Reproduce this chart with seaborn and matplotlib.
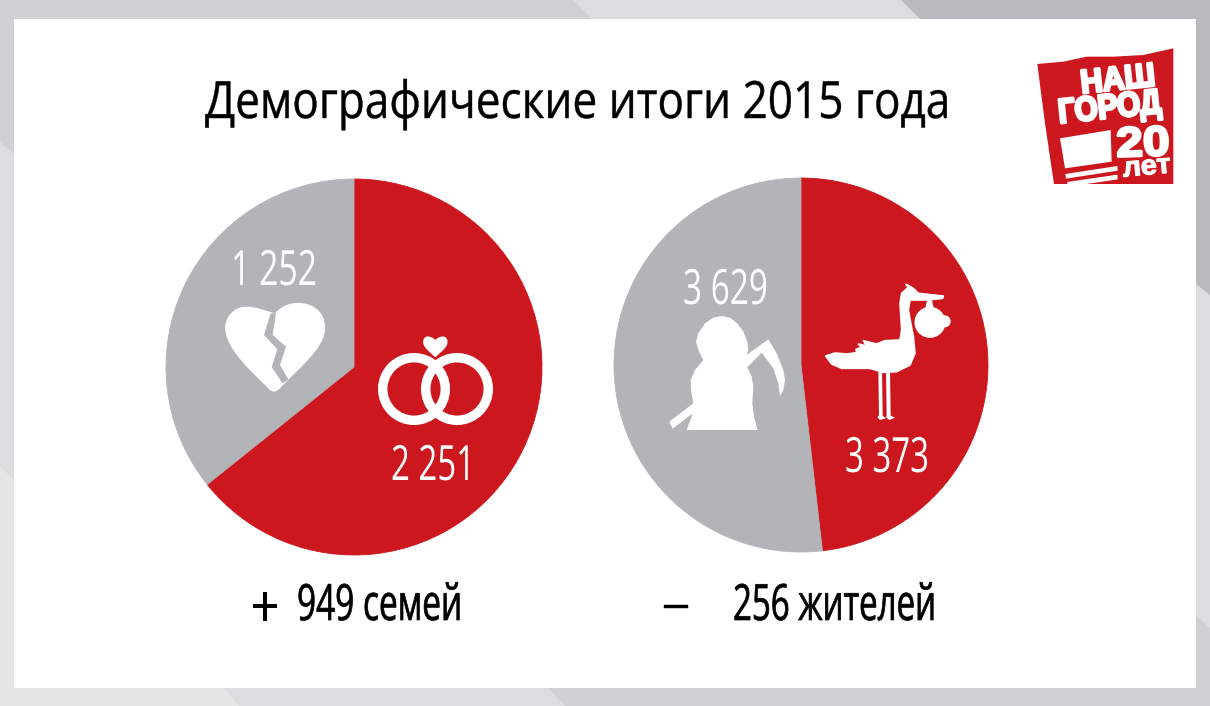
import matplotlib
matplotlib.use('Agg')
import matplotlib.pyplot as plt
import matplotlib.patheffects as pe
from matplotlib.patches import Polygon, Circle, PathPatch, Rectangle
from matplotlib.path import Path
from matplotlib.transforms import Affine2D
import seaborn as sns

W, H = 1210, 706

# chart values
marriage_labels = ['Браки', 'Разводы']
marriage_values = [2251, 1252]
population_labels = ['Рождения', 'Смерти']
population_values = [3373, 3629]
title_text = 'Демографические итоги 2015 года'
family_balance = '949 семей'
people_balance = '256 жителей'

RED = '#cd171e'
GREY = '#b3b4b8'

sns.set_theme(style='white')
plt.rcParams['font.family'] = ['Open Sans', 'DejaVu Sans']
palette = sns.color_palette([RED, GREY])


class Squeeze(pe.AbstractPathEffect):
    """Scale a text horizontally from its left end, no condensed font is installed."""

    def __init__(self, sx, stroke=0):
        super().__init__()
        self.sx = sx
        self.stroke = stroke

    def draw_path(self, renderer, gc, tpath, affine, rgbFace=None):
        gc0 = renderer.new_gc()
        gc0.copy_properties(gc)
        if self.stroke:
            gc0.set_linewidth(self.stroke)
            gc0.set_foreground(rgbFace)
        renderer.draw_path(gc0, tpath, Affine2D().scale(self.sx, 1) + affine, rgbFace)
        gc0.restore()


def fit_text(ax, s, x0, x1, base, size, color='black', rotation=0, stroke=0, **kw):
    # left end at x0, right end at x1, in pixels; base is the baseline
    t = ax.text(x0, base, s, fontsize=size, color=color, ha='left', va='baseline',
                rotation_mode='anchor', **kw)
    width = t.get_window_extent(fig.canvas.get_renderer()).width
    t.set_rotation(rotation)
    t.set_path_effects([Squeeze((x1 - x0) / width, stroke)])
    return t


def fmt(v):
    return f'{v:,}'.replace(',', ' ')


def zoomed(points, x0, y0):
    return [(x0 + x / 3, y0 + y / 3) for x, y in points]


def curve(start, segments, x0, y0):
    verts = [start]
    codes = [Path.MOVETO]
    for seg in segments:
        verts += list(seg)
        codes += [Path.CURVE4] * 3
    return Path(zoomed(verts, x0, y0), codes)


def draw_pie(fig, values, cx, cy, r):
    # axes are 1.25 * radius on each side of the centre, as ax.pie leaves them
    half = r * 1.25
    ax = fig.add_axes([(cx - half) / W, 1 - (cy + half) / H, 2 * half / W, 2 * half / H], zorder=1)
    ax.patch.set_alpha(0)
    wedges, _ = ax.pie(values, colors=palette, startangle=90, counterclock=False, radius=1)
    for wedge in wedges:
        # hide the white seam between the slices
        wedge.set_edgecolor(wedge.get_facecolor())
        wedge.set_linewidth(0.6)
    ax.set_xlim(-1.25, 1.25)
    ax.set_ylim(-1.25, 1.25)
    return ax


fig = plt.figure(figsize=(W / 100, H / 100), dpi=100)

# --- background bands and white panel ---
bg = fig.add_axes([0, 0, 1, 1], zorder=0)
bg.set_xlim(0, W)
bg.set_ylim(H, 0)
bg.axis('off')
bg.add_patch(Rectangle((0, 0), W, H, color='#dcddde', lw=0))
bg.add_patch(Polygon([(0, 0), (573, 0), (592, 19), (14, 154), (0, 142)], color='#d0d1d3', lw=0))
bg.add_patch(Polygon([(901, 0), (1210, 0), (1210, 295), (1196, 284), (920, 19)], color='#b9babd', lw=0))
bg.add_patch(Polygon([(548, 688), (565, 706), (1210, 706), (1210, 628), (1196, 615)], color='#d0d1d3', lw=0))
bg.add_patch(Polygon([(0, 466), (14, 480), (224, 688), (239, 706), (0, 706)], color='#e6e6e6', lw=0))
bg.add_patch(Rectangle((14, 19), 1182, 669, color='white', lw=0))

draw_pie(fig, marriage_values, 354, 367, 188)
draw_pie(fig, population_values, 801, 365, 187)

# --- overlay in pixel coordinates ---
ov = fig.add_axes([0, 0, 1, 1], zorder=2)
ov.set_xlim(0, W)
ov.set_ylim(H, 0)
ov.axis('off')
ov.patch.set_alpha(0)

fit_text(ov, title_text, 205, 950, 118, 37, stroke=0.3)

fit_text(ov, fmt(marriage_values[1]), 231, 317, 285, 35, 'white')
fit_text(ov, fmt(marriage_values[0]), 391, 475, 480, 35, 'white')
fit_text(ov, fmt(population_values[1]), 683, 768, 304, 35, 'white')
fit_text(ov, fmt(population_values[0]), 845, 929, 472, 35, 'white')

fit_text(ov, '+', 250, 280, 628, 44)
fit_text(ov, family_balance, 297, 462, 620, 36, stroke=0.5)
fit_text(ov, '–', 662, 690, 620, 36, stroke=0.3)
fit_text(ov, people_balance, 733, 936, 620, 36, stroke=0.5)

# broken heart
heart = curve((225, 100), [((250, 70), (290, 65), (310, 70)), ((360, 78), (378, 115), (375, 150)),
                           ((370, 210), (290, 270), (240, 325)), ((228, 338), (215, 338), (205, 325)),
                           ((150, 270), (80, 210), (75, 145)), ((75, 110), (105, 78), (140, 80)),
                           ((170, 80), (205, 95), (225, 100))], 200, 280)
ov.add_patch(PathPatch(heart, color='white', lw=0))
crack = [(212, 100), (228, 100), (218, 165), (258, 200), (240, 255), (265, 298), (248, 310), (215, 262),
         (232, 208), (192, 165)]
ov.add_patch(Polygon(zoomed(crack, 200, 280), color=GREY, lw=0))

# wedding rings with a small heart
ov.add_patch(Circle((414, 389), 31.3, fill=False, ec='white', lw=6.8))
ov.add_patch(Circle((457, 389), 31.3, fill=False, ec='white', lw=6.8))
ring_heart = curve((706, 180), [((715, 170), (728, 168), (733, 170)), ((745, 175), (745, 190), (738, 200)),
                                ((730, 212), (716, 222), (706, 232)), ((696, 222), (682, 212), (674, 200)),
                                ((667, 190), (667, 175), (679, 170)), ((684, 168), (697, 170), (706, 180))],
                   200, 280)
ov.add_patch(PathPatch(ring_heart, color='white', lw=0))

# reaper
hood = [(110, 480), (125, 440), (130, 400), (123, 360), (122, 330), (135, 300), (160, 270), (155, 262), (145, 240),
        (138, 215), (145, 190), (165, 160), (190, 143), (215, 138), (240, 143), (262, 160), (280, 185), (292, 215),
        (295, 240), (285, 268), (292, 292), (305, 320), (310, 350), (307, 400), (312, 440), (323, 480)]
ov.add_patch(Polygon(zoomed(hood, 650, 270), color='white', lw=0))
scythe = [(272, 268), (355, 208), (380, 250), (400, 300), (405, 330), (400, 360), (390, 378), (385, 340),
          (370, 295), (335, 248), (292, 292)]
ov.add_patch(Polygon(zoomed(scythe, 650, 270), color='white', lw=0))
ov.add_patch(Polygon(zoomed([(58, 455), (130, 400), (135, 425), (68, 476)], 650, 270), color='white', lw=0))

# stork with a bundle
stork = [(527, 258), (555, 249), (590, 252), (620, 248), (618, 238), (635, 232), (625, 222), (650, 228), (640, 212),
         (680, 222), (705, 212), (750, 210), (755, 180), (750, 100), (755, 70), (775, 52), (768, 43), (790, 55),
         (805, 70), (880, 78), (878, 85), (835, 90), (780, 90), (775, 120), (790, 200), (795, 250), (780, 285),
         (740, 305), (700, 307), (660, 295), (575, 295), (545, 282)]
ov.add_patch(Polygon(zoomed(stork, 650, 270), fc='white', ec='white', lw=1.2, joinstyle='round'))
ov.add_patch(Polygon(zoomed([(685, 300), (696, 300), (698, 437), (708, 445), (690, 450), (682, 442), (687, 436)],
                            650, 270), color='white', lw=0))
ov.add_patch(Polygon(zoomed([(708, 300), (720, 300), (722, 437), (735, 443), (718, 450), (708, 442), (710, 436)],
                            650, 270), color='white', lw=0))
ov.add_patch(Polygon(zoomed([(832, 88), (845, 88), (852, 118), (825, 118)], 650, 270), color='white', lw=0))
ov.add_patch(Circle((650 + 840 / 3, 270 + 157 / 3), 15.5, color='white', lw=0))
ov.add_patch(Circle((650 + 884 / 3, 270 + 154 / 3), 6, color='white', lw=0))

# newspaper logo
logo = [(52, 72), (130, 65), (200, 50), (280, 50), (370, 45), (460, 25), (460, 432), (102, 432), (75, 250)]
ov.add_patch(Polygon(zoomed(logo, 1020, 40), color=RED, lw=0))
ov.add_patch(Polygon(zoomed([(120, 295), (272, 270), (275, 365), (135, 385)], 1020, 40), color='white', lw=0))
ov.add_patch(Polygon(zoomed([(136, 402), (292, 378), (293, 392), (138, 416)], 1020, 40), color='white', lw=0))
ov.add_patch(Polygon(zoomed([(141, 426), (292, 404), (293, 418), (200, 432), (143, 432)], 1020, 40), color='white', lw=0))
logo_font = {'family': ['Liberation Sans', 'DejaVu Sans'], 'fontweight': 'bold'}
for txt, xa, xb, base, size, rot, thick in [('НАШ', 185, 410, 160, 24, 6, 2), ('ГОРОД', 118, 428, 250, 25, 6, 2),
                                            ('20', 290, 450, 350, 30, 2, 2), ('лет', 310, 455, 410, 20, 5, 0.8)]:
    fit_text(ov, txt, 1020 + xa / 3, 1020 + xb / 3, 40 + base / 3, size, 'white', rotation=rot, stroke=thick, **logo_font)

fig.savefig('out.png', dpi=100)
